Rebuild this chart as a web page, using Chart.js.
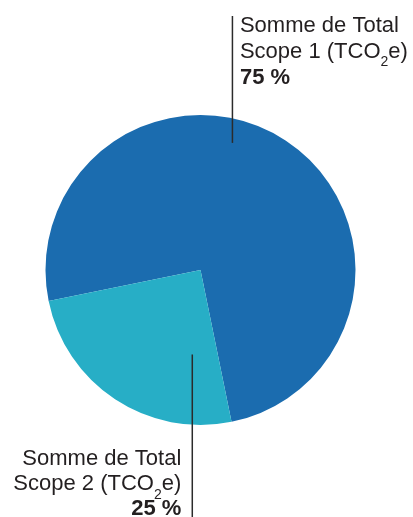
<!DOCTYPE html>
<html>
<head>
<meta charset="utf-8">
<script src="https://cdn.jsdelivr.net/npm/chart.js@4"></script>
<style>
  html, body { margin: 0; padding: 0; background: #ffffff; }
  #wrap { width: 413px; height: 517px; position: relative; }
</style>
</head>
<body>
<div id="wrap"><canvas id="c" width="413" height="517"></canvas></div>
<script>
const labelTitles = ["Somme de Total", "Somme de Total"];
const labelScopes = ["Scope 1", "Scope 2"];
const values = [75, 25];
const colors = ["#1b6caf", "#27aec6"];

const FONT = '"Liberation Sans", Arial, sans-serif';
const TEXT_COLOR = "#231f20";

function drawRich(ctx, parts, x, y, align) {
  let total = 0;
  parts.forEach(p => {
    ctx.font = (p.sub ? "14px " : "22px ") + FONT;
    total += ctx.measureText(p.text).width;
  });
  let cx = align === "right" ? x - total : x;
  ctx.textAlign = "left";
  parts.forEach(p => {
    ctx.font = (p.sub ? "14px " : "22px ") + FONT;
    ctx.fillText(p.text, cx, y + (p.sub ? 8.5 : 0));
    cx += ctx.measureText(p.text).width;
  });
}

const calloutPlugin = {
  id: "callouts",
  afterDraw(chart) {
    const ctx = chart.ctx;
    const arc = chart.getDatasetMeta(0).data[0];
    const cx = arc.x, cy = arc.y, r = arc.outerRadius;
    const sum = values.reduce((a, b) => a + b, 0);
    const pct = values.map(v => Math.round(v / sum * 100) + " %");
    ctx.save();
    ctx.strokeStyle = "#2b2b2b";
    ctx.lineWidth = 1.5;
    const tx = cx + r * 0.206;
    ctx.beginPath();
    ctx.moveTo(tx, 16);
    ctx.lineTo(tx, cy - r * 0.82);
    ctx.stroke();
    const bx = cx - r * 0.053;
    ctx.beginPath();
    ctx.moveTo(bx, cy + r * 0.545);
    ctx.lineTo(bx, chart.height);
    ctx.stroke();

    ctx.fillStyle = TEXT_COLOR;
    ctx.textBaseline = "alphabetic";
    const lx = tx + 7.5;
    drawRich(ctx, [{text: labelTitles[0]}], lx, 31.5, "left");
    drawRich(ctx, [{text: labelScopes[0] + " (TCO"}, {text: "2", sub: true}, {text: "e)"}], lx, 57.5, "left");
    ctx.font = "bold 22px " + FONT;
    ctx.textAlign = "left";
    ctx.fillText(pct[0], lx, 83.5);
    const rx = bx - 11;
    drawRich(ctx, [{text: labelTitles[1]}], rx, 465, "right");
    drawRich(ctx, [{text: labelScopes[1] + " (TCO"}, {text: "2", sub: true}, {text: "e)"}], rx, 490, "right");
    ctx.font = "bold 22px " + FONT;
    ctx.textAlign = "right";
    ctx.fillText(pct[1], rx, 515);
    ctx.restore();
  }
};

new Chart(document.getElementById("c"), {
  type: "pie",
  data: {
    labels: labelScopes,
    datasets: [{
      data: values,
      backgroundColor: colors,
      borderWidth: 0,
      hoverOffset: 0
    }]
  },
  options: {
    responsive: false,
    animation: false,
    rotation: 258.45,
    layout: { padding: { left: 45.5, right: 57.5, top: 115, bottom: 92 } },
    plugins: {
      legend: { display: false },
      tooltip: { enabled: false }
    }
  },
  plugins: [calloutPlugin]
});
</script>
</body>
</html>
